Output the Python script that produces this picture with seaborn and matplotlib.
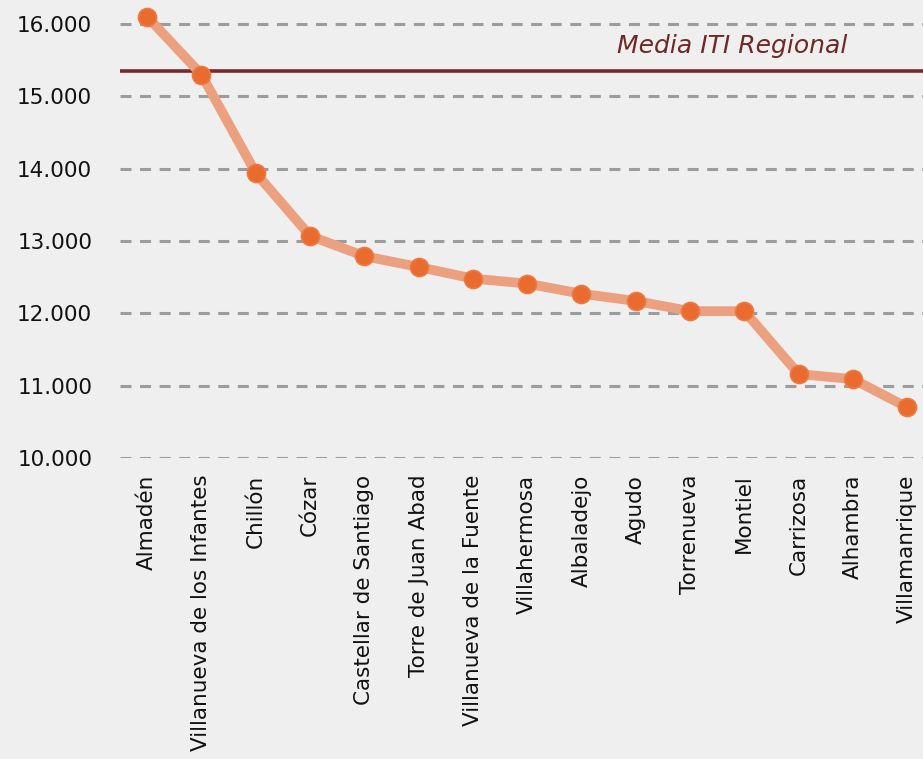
import matplotlib
matplotlib.use("Agg")
import matplotlib.pyplot as plt
import seaborn as sns
import pandas as pd

municipios = [
    "Almadén", "Villanueva de los Infantes", "Chillón", "Cózar",
    "Castellar de Santiago", "Torre de Juan Abad", "Villanueva de la Fuente",
    "Villahermosa", "Albaladejo", "Agudo", "Torrenueva", "Montiel",
    "Carrizosa", "Alhambra", "Villamanrique",
]
iti = [16100, 15300, 13940, 13070, 12790, 12640, 12480, 12410,
       12270, 12170, 12030, 12030, 11160, 11090, 10700]
media_regional = 15350
media_label = "Media ITI Regional"
yticks = [10000, 11000, 12000, 13000, 14000, 15000, 16000]
ytick_labels = ["10.000", "11.000", "12.000", "13.000", "14.000", "15.000", "16.000"]

df = pd.DataFrame({"municipio": municipios, "iti": iti, "pos": range(len(municipios))})

sns.set_theme(style="white")
plt.rcParams["font.family"] = ["DejaVu Sans"]

bg = "#EFEFEF"
fig = plt.figure(figsize=(9.23, 7.59), dpi=100, facecolor=bg)
ax = fig.add_axes([0.130, 0.3966, 0.870, 0.6034], facecolor=bg)

# dashed horizontal grid
for v in yticks:
    ax.axhline(v, color="#9C9C9C", lw=2.2, dashes=(3.6, 2.8), zorder=1)

# regional average
ax.axhline(media_regional, color="#7A2B28", lw=2.6, zorder=2)
ax.text(8.66, 15700, media_label, color="#6E2925", fontsize=18,
        style="italic", va="center", ha="left")

sns.lineplot(data=df, x="pos", y="iti", ax=ax, color="#EBA07F", lw=7,
             marker="o", markersize=13, markerfacecolor="#E96C2E",
             markeredgecolor="#EC7A45", markeredgewidth=1.2, zorder=3)

ax.set_xlim(-0.5, 14.29)
ax.set_ylim(10000, 16330)
ax.set_yticks(yticks)
ax.set_yticklabels(ytick_labels, fontsize=15.5, color="#111111")
ax.set_xticks(range(len(municipios)))
ax.set_xticklabels(municipios, rotation=90, fontsize=15.5, color="#111111",
                   ha="center", va="top")
ax.tick_params(axis="y", length=0, pad=20)
ax.tick_params(axis="x", length=0, pad=12)
ax.set_xlabel("")
ax.set_ylabel("")
for s in ax.spines.values():
    s.set_visible(False)

fig.savefig("out.png", dpi=100, facecolor=bg)
